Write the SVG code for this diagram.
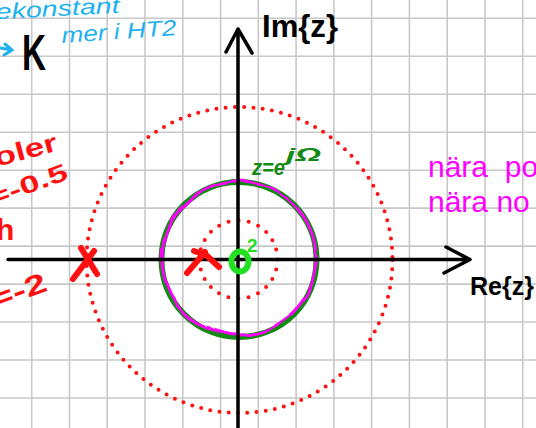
<svg xmlns="http://www.w3.org/2000/svg" width="536" height="428" viewBox="0 0 536 428">
<defs>
<style>
.grid line{stroke:#c8c8c8;stroke-width:1.6}
.axis{stroke:#000;stroke-width:3.5;fill:none;stroke-linecap:round;stroke-linejoin:round}
.dot{fill:none;stroke:#ff1010;stroke-width:4;stroke-linecap:round}
.hand{font-family:"Liberation Sans","DejaVu Sans",sans-serif}
.red{fill:#ff1010}
.blue{fill:#1eb2f0}
.mag{fill:#ff00ff;font-family:"Liberation Sans",Arial,sans-serif;font-size:30px;white-space:pre}
</style>
<filter id="wob" x="-20%" y="-20%" width="140%" height="140%">
<feTurbulence type="fractalNoise" baseFrequency="0.035" numOctaves="1" seed="3" result="n"/>
<feDisplacementMap in="SourceGraphic" in2="n" scale="9" xChannelSelector="R" yChannelSelector="G"/>
</filter>
</defs>
<rect width="536" height="428" fill="#fff"/>
<g id="grid" class="grid">
<line x1="31.7" y1="0" x2="31.7" y2="428"/>
<line x1="69.5" y1="0" x2="69.5" y2="428"/>
<line x1="107.2" y1="0" x2="107.2" y2="428"/>
<line x1="145" y1="0" x2="145" y2="428"/>
<line x1="182.8" y1="0" x2="182.8" y2="428"/>
<line x1="220.6" y1="0" x2="220.6" y2="428"/>
<line x1="258.3" y1="0" x2="258.3" y2="428"/>
<line x1="296.1" y1="0" x2="296.1" y2="428"/>
<line x1="333.9" y1="0" x2="333.9" y2="428"/>
<line x1="371.6" y1="0" x2="371.6" y2="428"/>
<line x1="409.4" y1="0" x2="409.4" y2="428"/>
<line x1="447.2" y1="0" x2="447.2" y2="428"/>
<line x1="485" y1="0" x2="485" y2="428"/>
<line x1="522.7" y1="0" x2="522.7" y2="428"/>
<line x1="0" y1="18.3" x2="536" y2="18.3"/>
<line x1="0" y1="56.3" x2="536" y2="56.3"/>
<line x1="0" y1="94.2" x2="536" y2="94.2"/>
<line x1="0" y1="132.2" x2="536" y2="132.2"/>
<line x1="0" y1="170.2" x2="536" y2="170.2"/>
<line x1="0" y1="208.1" x2="536" y2="208.1"/>
<line x1="0" y1="246.1" x2="536" y2="246.1"/>
<line x1="0" y1="284.1" x2="536" y2="284.1"/>
<line x1="0" y1="322" x2="536" y2="322"/>
<line x1="0" y1="360" x2="536" y2="360"/>
<line x1="0" y1="398" x2="536" y2="398"/>
</g>
<g id="circles">
<circle class="dot" cx="239.5" cy="260" r="153" stroke-dasharray="0 9.3"/>
<circle class="dot" cx="238.5" cy="259.5" r="39" stroke-dasharray="0 10.2"/>
<circle cx="239" cy="259.5" r="77.5" fill="none" stroke="#138a13" stroke-width="6"/>
<circle cx="239.5" cy="258.5" r="76.5" fill="none" stroke="#ff00ff" stroke-width="3" filter="url(#wob)"/>
</g>
<g id="axes">
<path class="axis" d="M8,259.5 L469,259.5 M446,247 L470,259.5 L444,273"/>
<path class="axis" d="M238,428 L238,29 M226,52 L238,29 L252,53"/>
</g>
<g id="poles" stroke="#ff1010" stroke-width="6" stroke-linecap="round" fill="none">
<path d="M73,279 L94,251 M81,248 L97,274"/>
<path d="M187,273 L205,252 M194,251 L206,255 L219,267"/>
</g>
<g id="zero">
<ellipse cx="240" cy="261.5" rx="8.5" ry="10" fill="none" stroke="#22e022" stroke-width="6"/>
<text class="hand" x="247" y="252" font-size="19" font-weight="bold" fill="#22e022">2</text>
</g>
<g id="labels">
<text class="hand" x="262" y="37" font-size="32" font-weight="bold" textLength="76" lengthAdjust="spacingAndGlyphs">Im{z}</text>
<text class="hand" x="470" y="295" font-size="26" font-weight="bold" textLength="64" lengthAdjust="spacingAndGlyphs">Re{z}</text>
<text class="hand" x="252" y="175" font-size="22" font-weight="bold" font-style="italic" fill="#138a13" textLength="33" lengthAdjust="spacingAndGlyphs">z=e</text>
<text class="hand" x="286" y="161" font-size="19" font-weight="bold" font-style="italic" fill="#138a13" textLength="35" lengthAdjust="spacingAndGlyphs">jΩ</text>
<text class="mag" x="428" y="177" xml:space="preserve">nära  po</text>
<text class="mag" x="428" y="212">nära no</text>
<text class="hand blue" x="-4" y="19" font-size="22" font-style="italic" textLength="124" lengthAdjust="spacingAndGlyphs" transform="rotate(-3 0 19)">ekonstant</text>
<path d="M0,48 L12,50 M5,44 L12,50 L4,55" fill="none" stroke="#1eb2f0" stroke-width="3" stroke-linecap="round"/>
<text class="hand" x="22" y="70" font-size="50" font-weight="bold" textLength="24" lengthAdjust="spacingAndGlyphs">K</text>
<text class="hand blue" x="62" y="43" font-size="22" font-style="italic" textLength="115" lengthAdjust="spacingAndGlyphs" transform="rotate(-4 62 43)">mer i HT2</text>
<text class="hand red" x="-3" y="166" font-size="26" font-weight="bold" textLength="64" lengthAdjust="spacingAndGlyphs" transform="rotate(-15 0 166)">oler</text>
<text class="hand red" x="-8" y="204" font-size="24" font-weight="bold" textLength="82" lengthAdjust="spacingAndGlyphs" transform="rotate(-20 0 204)">=-0.5</text>
<text class="hand red" x="-4" y="240" font-size="30" font-weight="bold">h</text>
<text class="hand red" x="-6" y="308" font-size="28" font-weight="bold" textLength="58" lengthAdjust="spacingAndGlyphs" transform="rotate(-20 0 308)">=-2</text>
</g>
</svg>
